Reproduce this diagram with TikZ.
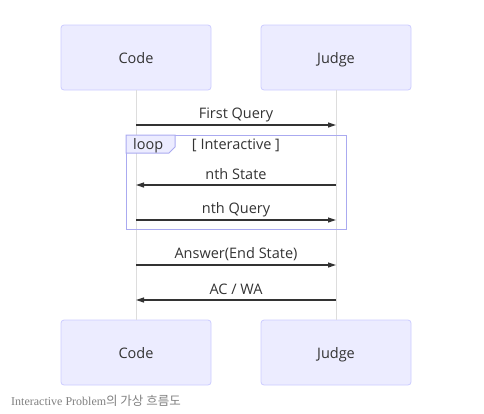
\documentclass[tikz,border=0pt]{standalone}
\usepackage{fontspec}
\setmainfont{Open Sans}
\newfontfamily\capfont{Liberation Serif}
\newfontfamily\kfont{Noto Sans CJK KR}
\usetikzlibrary{arrows.meta}
\definecolor{boxfill}{HTML}{ECECFF}
\definecolor{boxdraw}{HTML}{CCCCFF}
\definecolor{loopdraw}{HTML}{AAAAF0}
\definecolor{lifeline}{HTML}{DDDDDD}
\definecolor{msg}{HTML}{333333}
\newcommand{\actortext}[1]{\smash{\raisebox{-5.5pt}{#1}}}
\tikzset{
  actor/.style={draw=boxdraw, fill=boxfill, rounded corners=3pt, minimum width=150pt, minimum height=65pt, inner sep=0pt, text=msg, font=\fontsize{14.5}{16}\selectfont, line width=0.8pt},
  life/.style={draw=lifeline, line width=1pt},
  message/.style={draw=msg, line width=1.2pt, -{Triangle[length=8pt,width=5pt]}},
  msglabel/.style={text=msg, font=\fontsize{14.5}{16}\selectfont, inner sep=0pt},
}
\begin{document}
\begin{tikzpicture}[x=1pt,y=-1pt]
\useasboundingbox (0,0) rectangle (484,413);
\node[actor] (codeT) at (136,57.5) {\actortext{Code}};
\node[actor] (judgeT) at (336,57.5) {\actortext{Judge}};
\node[actor] (codeB) at (136,352.5) {\actortext{Code}};
\node[actor] (judgeB) at (336,352.5) {\actortext{Judge}};
\draw[life] (codeT.south) -- (codeB.north);
\draw[life] (judgeT.south) -- (judgeB.north);
% loop
\node[draw=loopdraw, line width=1pt, minimum width=220pt, minimum height=94pt, inner sep=0pt] (loop) at (236,182) {};
\draw[draw=loopdraw, fill=boxfill, line width=1pt] (126,135) -- (175,135) -- (175,147) -- (169,153) -- (126,153) -- cycle;
\node[msglabel, anchor=west] (looplbl) at (133,145.5) {loop};
\node[msglabel] (cond) at (236,145.5) {[ Interactive ]};
% message anchor points
\coordinate (c1) at (codeT.south |- 0,125);
\coordinate (j1) at (judgeT.south |- 0,125);
\coordinate (c2) at (codeT.south |- 0,185);
\coordinate (j2) at (judgeT.south |- 0,185);
\coordinate (c3) at (codeT.south |- 0,220);
\coordinate (j3) at (judgeT.south |- 0,220);
\coordinate (c4) at (codeT.south |- 0,265);
\coordinate (j4) at (judgeT.south |- 0,265);
\coordinate (c5) at (codeT.south |- 0,300);
\coordinate (j5) at (judgeT.south |- 0,300);
\draw[message] (c1) -- (j1);
\draw[message] (j2) -- (c2);
\draw[message] (c3) -- (j3);
\draw[message] (c4) -- (j4);
\draw[message] (j5) -- (c5);
\node[msglabel] (l1) at (236,114.5) {First Query};
\node[msglabel] (l2) at (236,174.5) {nth State};
\node[msglabel] (l3) at (236,209.5) {nth Query};
\node[msglabel] (l4) at (236,254.5) {Answer(End State)};
\node[msglabel] (l5) at (236,289.5) {AC / WA};
% caption
\node[anchor=west, inner sep=0pt, text=black!50] (cap) at (11,400.5) {\capfont\fontsize{12}{14}\selectfont Interactive Problem{\kfont\fontsize{12.5}{14}\selectfont 의 가상 흐름도}};
\end{tikzpicture}
\end{document}
